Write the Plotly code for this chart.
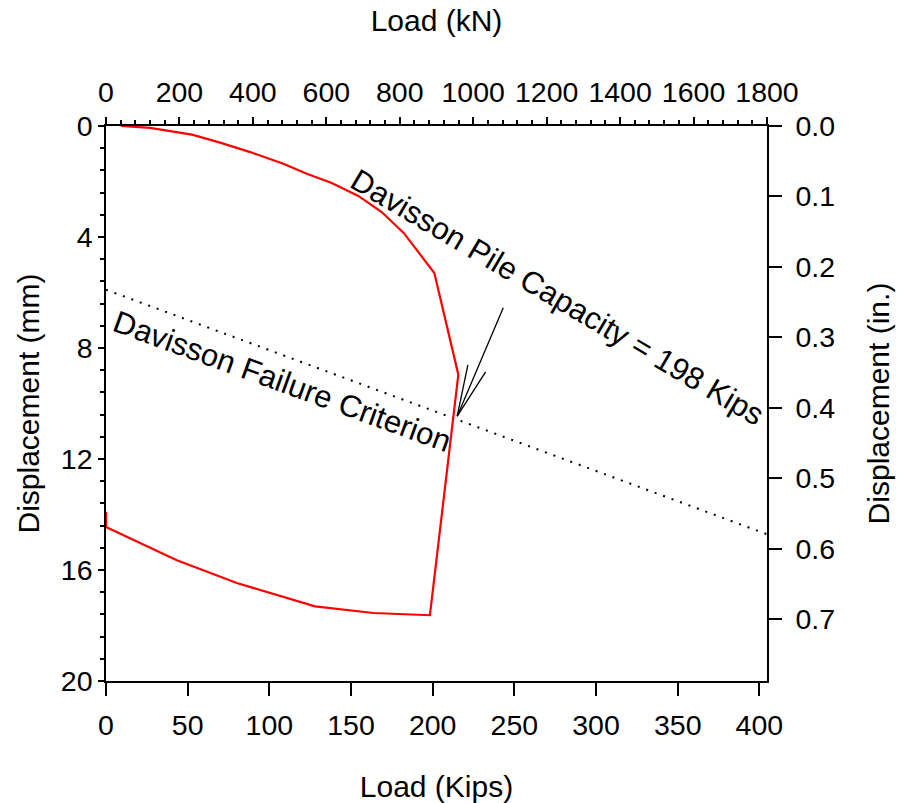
import plotly.graph_objects as go

# Load-settlement curve of the static load test (load in kips, displacement in mm)
load_kips = [9.2, 27.0, 52.6, 69.9, 88.3, 108.6, 122.9, 138.2, 154.5, 168.8,
             182.4, 201.0, 215.7, 198.3, 163.7, 128.0, 80.1, 43.4, 0.0, 0.0]
disp_mm = [0.0, 0.07, 0.31, 0.60, 0.94, 1.36, 1.72, 2.05, 2.52, 3.10,
           3.86, 5.30, 8.96, 17.63, 17.55, 17.31, 16.47, 15.65, 14.45, 13.90]

# Davisson failure criterion (offset elastic line)
criterion_kips = [0.0, 404.65]
criterion_mm = [5.90, 14.71]

# Axis ticks
kips_ticks = [0, 50, 100, 150, 200, 250, 300, 350, 400]
kn_ticks = [0, 200, 400, 600, 800, 1000, 1200, 1400, 1600, 1800]
mm_ticks = [0, 4, 8, 12, 16, 20]
in_ticks = [0.0, 0.1, 0.2, 0.3, 0.4, 0.5, 0.6, 0.7]

KN_PER_KIP = 4.44822
MM_PER_IN = 25.4
x_max_kn = 1800
y_max_mm = 20
x_max_kips = x_max_kn / KN_PER_KIP

FONT = "Liberation Sans, Arial, sans-serif"
TICK_SIZE = 28.5
TITLE_SIZE = 30
LABEL_SIZE = 31

# intersection of the failure criterion with the plunging branch of the curve
def intersect(p1, p2, q1, q2):
    x1, y1 = p1; x2, y2 = p2; x3, y3 = q1; x4, y4 = q2
    d = (x1 - x2) * (y3 - y4) - (y1 - y2) * (x3 - x4)
    t = ((x1 - x3) * (y3 - y4) - (y1 - y3) * (x3 - x4)) / d
    return x1 + t * (x2 - x1), y1 + t * (y2 - y1)

peak = load_kips.index(max(load_kips))
tip_x, tip_y = intersect((load_kips[peak], disp_mm[peak]),
                         (load_kips[peak + 1], disp_mm[peak + 1]),
                         (criterion_kips[0], criterion_mm[0]),
                         (criterion_kips[1], criterion_mm[1]))

fig = go.Figure()
fig.add_trace(go.Scatter(x=criterion_kips, y=criterion_mm, mode="lines",
                         line=dict(color="black", width=2, dash="2px,7px"),
                         hoverinfo="skip", showlegend=False))
fig.add_trace(go.Scatter(x=load_kips, y=disp_mm, mode="lines",
                         line=dict(color="#ff0000", width=2.2),
                         showlegend=False))
# invisible traces bind the secondary (kN / inch) axes
fig.add_trace(go.Scatter(x=[0, x_max_kn], y=[None, None], xaxis="x2", yaxis="y",
                         mode="lines", showlegend=False, hoverinfo="skip"))
fig.add_trace(go.Scatter(x=[None, None], y=[0, y_max_mm / MM_PER_IN], xaxis="x", yaxis="y2",
                         mode="lines", showlegend=False, hoverinfo="skip"))

axis_common = dict(showgrid=False, zeroline=False, showline=True, automargin=False,
                   linecolor="black", linewidth=1.5, ticks="outside",
                   tickcolor="black", tickwidth=1.5,
                   tickfont=dict(family=FONT, size=TICK_SIZE, color="black"))
title_font = dict(family=FONT, size=TITLE_SIZE, color="black")

fig.update_layout(
    width=918, height=803,
    margin=dict(l=106, r=151, t=126, b=122, autoexpand=False),
    plot_bgcolor="white", paper_bgcolor="white",
    showlegend=False,
    xaxis=dict(axis_common, range=[0, x_max_kips], tickvals=kips_ticks,
               ticklen=13, ticklabelstandoff=5,
               title=dict(text="Load (Kips)", standoff=38, font=title_font)),
    xaxis2=dict(axis_common, overlaying="x", side="top", anchor="y",
                range=[0, x_max_kn], tickvals=kn_ticks, ticklen=7,
                ticklabelstandoff=4,
                minor=dict(dtick=40, tick0=0, ticklen=4.5, ticks="outside",
                           tickcolor="black", tickwidth=1.5),
                title=dict(text="Load (kN)", standoff=35, font=title_font)),
    yaxis=dict(axis_common, range=[y_max_mm, 0], tickvals=mm_ticks,
               ticklen=6, ticklabelstandoff=0,
               minor=dict(dtick=0.8, tick0=0, ticklen=4, ticks="outside",
                          tickcolor="black", tickwidth=1.5),
               title=dict(text="Displacement (mm)", standoff=12, font=title_font)),
    yaxis2=dict(axis_common, overlaying="y", side="right", anchor="x",
                range=[y_max_mm / MM_PER_IN, 0], tickvals=in_ticks,
                tickformat=".1f", ticklen=13, ticklabelstandoff=8,
                title=dict(text="Displacement (in.)", standoff=34, font=title_font)),
)

label_font = dict(family=FONT, size=LABEL_SIZE, color="black")
fig.add_annotation(x=276.6, y=6.17, xref="x", yref="y", text="Davisson Pile Capacity = 198 Kips",
                   textangle=30.5, showarrow=False, font=label_font)
fig.add_annotation(x=108.0, y=9.20, xref="x", yref="y", text="Davisson Failure Criterion",
                   textangle=20, showarrow=False, font=label_font)

# open arrow pointing at the capacity: shaft plus two head strokes (pixel offsets from the tip)
for ax, ay in [(46.7, -110), (11, -52.7), (29.4, -45.7)]:
    fig.add_annotation(x=tip_x, y=tip_y, xref="x", yref="y", text="",
                       showarrow=True, arrowhead=0, arrowwidth=1.3, arrowcolor="black",
                       ax=ax, ay=ay, xshift=4, yshift=2, standoff=0, startstandoff=0)

fig.write_html("out.html")
